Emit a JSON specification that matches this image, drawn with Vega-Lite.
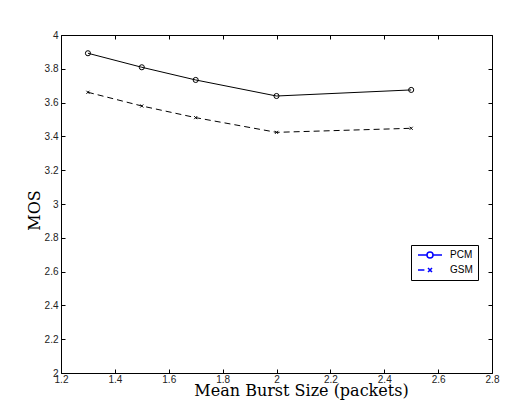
{
  "$schema": "https://vega.github.io/schema/vega-lite/v6.json",
  "width": 431,
  "height": 338,
  "autosize": {"type": "none"},
  "padding": {"left": 61, "top": 35, "right": 20, "bottom": 43},
  "background": "white",
  "data": {
    "values": [
      {"burst": 1.3, "mos": 3.892, "codec": "PCM"},
      {"burst": 1.5, "mos": 3.809, "codec": "PCM"},
      {"burst": 1.7, "mos": 3.734, "codec": "PCM"},
      {"burst": 2.0, "mos": 3.639, "codec": "PCM"},
      {"burst": 2.5, "mos": 3.675, "codec": "PCM"},
      {"burst": 1.3, "mos": 3.661, "codec": "GSM"},
      {"burst": 1.5, "mos": 3.580, "codec": "GSM"},
      {"burst": 1.7, "mos": 3.511, "codec": "GSM"},
      {"burst": 2.0, "mos": 3.424, "codec": "GSM"},
      {"burst": 2.5, "mos": 3.448, "codec": "GSM"}
    ]
  },
  "config": {
    "view": {"stroke": null},
    "axis": {
      "grid": false,
      "domainColor": "black",
      "domainWidth": 1,
      "tickColor": "black",
      "tickWidth": 1,
      "tickSize": -4,
      "labelFont": "Liberation Sans",
      "labelFontSize": 10,
      "labelColor": "#222222",
      "titleFont": "DejaVu Serif",
      "titleFontSize": 16,
      "titleFontWeight": "normal",
      "titleColor": "black"
    }
  },
  "resolve": {"axis": {"x": "independent", "y": "independent"}},
  "layer": [
    {
      "transform": [{"filter": "datum.codec === 'PCM'"}],
      "mark": {"type": "line", "color": "black", "strokeWidth": 1},
      "encoding": {
        "x": {
          "field": "burst", "type": "quantitative",
          "scale": {"domain": [1.2, 2.8], "nice": false, "zero": false},
          "axis": {
            "orient": "bottom",
            "values": [1.2, 1.4, 1.6, 1.8, 2, 2.2, 2.4, 2.6, 2.8],
            "format": "~g",
            "labelPadding": 5,
            "labelFlush": false,
            "labelOverlap": false,
            "title": "Mean Burst Size (packets)",
            "titleX": 240,
            "titleY": 22,
            "titleAlign": "center",
            "titleBaseline": "alphabetic"
          }
        },
        "y": {
          "field": "mos", "type": "quantitative",
          "scale": {"domain": [2, 4], "nice": false, "zero": false},
          "axis": {
            "orient": "left",
            "values": [2, 2.2, 2.4, 2.6, 2.8, 3, 3.2, 3.4, 3.6, 3.8, 4],
            "format": "~g",
            "labelPadding": 7,
            "labelFlush": false,
            "labelOverlap": false,
            "title": "MOS",
            "titleX": -27,
            "titleY": 175,
            "titleAngle": -90,
            "titleAlign": "center",
            "titleBaseline": "middle"
          }
        }
      }
    },
    {
      "transform": [{"filter": "datum.codec === 'GSM'"}],
      "mark": {"type": "line", "color": "black", "strokeWidth": 1, "strokeDash": [6, 4]},
      "encoding": {
        "x": {"field": "burst", "type": "quantitative", "axis": null},
        "y": {"field": "mos", "type": "quantitative", "axis": null}
      }
    },
    {
      "transform": [{"filter": "datum.codec === 'PCM'"}],
      "mark": {"type": "point", "shape": "circle", "filled": false, "color": "black", "strokeWidth": 1, "opacity": 1, "size": 26},
      "encoding": {
        "x": {"field": "burst", "type": "quantitative", "axis": null},
        "y": {"field": "mos", "type": "quantitative", "axis": null}
      }
    },
    {
      "transform": [{"filter": "datum.codec === 'GSM'"}],
      "mark": {"type": "point", "shape": "M-0.6,-0.6L0.6,0.6M-0.6,0.6L0.6,-0.6", "filled": false, "color": "black", "strokeWidth": 1, "opacity": 1, "size": 26},
      "encoding": {
        "x": {"field": "burst", "type": "quantitative", "axis": null},
        "y": {"field": "mos", "type": "quantitative", "axis": null}
      }
    },
    {
      "mark": {"type": "point", "filled": false, "color": "blue", "strokeWidth": 1, "opacity": 0},
      "encoding": {
        "x": {"field": "burst", "type": "quantitative", "axis": null},
        "y": {"field": "mos", "type": "quantitative", "axis": null},
        "shape": {
          "field": "codec", "type": "nominal",
          "scale": {"domain": ["PCM", "GSM"], "range": ["M-3,0H-0.75M0.75,0H3M0.75,0A0.75,0.75 0 1,1 -0.75,0A0.75,0.75 0 1,1 0.75,0", "M-3,0H-1.4M-0.5,-0.5L0.5,0.5M-0.5,0.5L0.5,-0.5"]},
          "legend": {
            "title": null,
            "orient": "none",
            "legendX": 350,
            "legendY": 210,
            "strokeColor": "black",
            "fillColor": "white",
            "padding": 5,
            "symbolSize": 64,
            "symbolOffset": 9,
            "labelOffset": 15,
            "rowPadding": 4,
            "labelFont": "Liberation Sans",
            "labelFontSize": 10,
            "labelColor": "black",
            "symbolStrokeColor": "blue",
            "encode": {
              "symbols": {
                "stroke": {"value": "blue"},
                "fill": {"value": "transparent"},
                "strokeWidth": {"value": 1},
                "opacity": {"value": 1}
              }
            }
          }
        }
      }
    },
    {
      "mark": {"type": "point", "opacity": 0},
      "encoding": {
        "x": {
          "field": "burst", "type": "quantitative",
          "axis": {"orient": "top", "labels": false, "title": null,
                   "values": [1.2, 1.4, 1.6, 1.8, 2, 2.2, 2.4, 2.6, 2.8]}
        },
        "y": {
          "field": "mos", "type": "quantitative",
          "axis": {"orient": "right", "labels": false, "title": null,
                   "values": [2, 2.2, 2.4, 2.6, 2.8, 3, 3.2, 3.4, 3.6, 3.8, 4]}
        }
      }
    }
  ]
}
